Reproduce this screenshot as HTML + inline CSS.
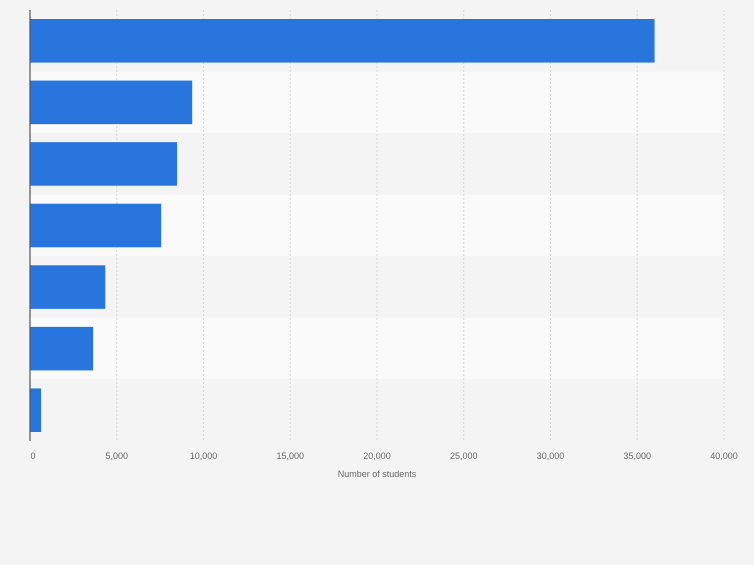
<!DOCTYPE html>
<html><head><meta charset="utf-8"><style>
body{margin:0;background:#f4f4f4;font-family:"Liberation Sans",sans-serif}
</style></head><body>
<svg id="chart" width="754" height="560" xmlns="http://www.w3.org/2000/svg">
<rect width="754" height="560" fill="#f4f4f4"/>
<g id="bands"></g><g id="grid"></g><g id="bars"></g><g id="ticks"></g>
<line x1="30" y1="10" x2="30" y2="441" stroke="#555" stroke-width="1.2"/>
<text x="377" y="477" font-size="9" fill="#666" text-anchor="middle">Number of students</text>
</svg>
<script>
const categories=["A","B","C","D","E","F","G"];
const values=[36000,9350,8480,7560,4340,3640,640];
const tickValues=[0,5000,10000,15000,20000,25000,30000,35000,40000];
const tickLabels=["0","5,000","10,000","15,000","20,000","25,000","30,000","35,000","40,000"];
const NS="http://www.w3.org/2000/svg";
const x0=30,x1=724,yTop=10,yBottom=441,xmax=40000;
const xs=v=>x0+v/xmax*(x1-x0);
const rowH=(yBottom-yTop)/categories.length;
function mk(t,a,p){const e=document.createElementNS(NS,t);for(const k in a)e.setAttribute(k,a[k]);p.appendChild(e);return e;}
const bands=document.getElementById('bands'),grid=document.getElementById('grid'),bars=document.getElementById('bars'),ticks=document.getElementById('ticks');
categories.forEach((c,i)=>{
 const b=mk('rect',{x:x0,y:yTop+i*rowH,width:x1-x0,height:rowH,fill:i%2?'#fafafa':'#f4f4f4'},bands);
 
 
});
tickValues.forEach((v,i)=>{
 if(i>0){const l=mk('line',{x1:xs(v),x2:xs(v),y1:yTop,y2:yBottom,stroke:'#d8d8d8','stroke-dasharray':'2,2'},grid);
 
 }
 const t=mk('text',{x:xs(v)+(i===0?3:0),y:459,'font-size':'9',fill:'#666','text-anchor':'middle'},ticks);
 t.textContent=tickLabels[i];
 
 
});
values.forEach((v,i)=>{
 const r=mk('rect',{x:x0,y:yTop+i*rowH+9,width:xs(v)-x0,height:rowH-18,fill:'#2876dd'},bars);
 
 
});
</script>
</body></html>
